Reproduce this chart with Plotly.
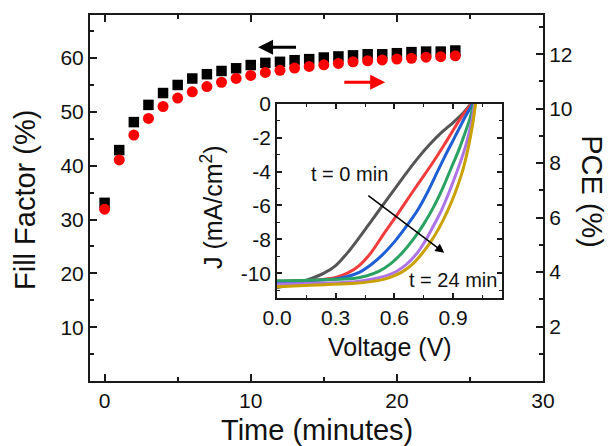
import plotly.graph_objects as go

# ---------------- data ----------------
time_min = list(range(0, 25))
fill_factor = [33.1, 42.9, 48.1, 51.3, 53.5, 55.0, 56.2, 57.0, 57.6, 58.1, 58.7, 59.1, 59.3,
               59.6, 59.8, 60.1, 60.3, 60.5, 60.7, 60.7, 60.9, 61.1, 61.2, 61.2, 61.4]
pce = [6.31, 8.12, 9.03, 9.64, 10.08, 10.39, 10.62, 10.81, 10.97, 11.11, 11.22, 11.33, 11.41,
       11.49, 11.55, 11.61, 11.66, 11.72, 11.76, 11.79, 11.82, 11.85, 11.89, 11.91, 11.94]

# inset J-V curves (t = 0 ... 24 min)
v_t0 = [0.0, 0.1, 0.18, 0.24, 0.30, 0.36, 0.42, 0.48, 0.54, 0.60, 0.66, 0.72, 0.78, 0.84, 0.90, 0.95, 0.99]
j_t0 = [-10.85, -10.6, -10.3, -10.0, -9.55, -8.8, -7.9, -6.95, -6.0, -5.05, -4.1, -3.2, -2.4, -1.7, -1.1, -0.55, 0.0]
v_t1 = [0.0, 0.1, 0.2, 0.3, 0.36, 0.42, 0.48, 0.55, 0.62, 0.69, 0.75, 0.80, 0.85, 0.89, 0.93, 0.96, 0.995]
j_t1 = [-10.5, -10.45, -10.4, -10.25, -10.0, -9.55, -8.8, -7.6, -6.45, -5.25, -4.25, -3.4, -2.5, -1.75, -1.0, -0.5, 0.0]
v_t2 = [0.0, 0.15, 0.3, 0.36, 0.42, 0.48, 0.54, 0.60, 0.66, 0.72, 0.77, 0.82, 0.86, 0.90, 0.94, 0.97, 1.0]
j_t2 = [-10.55, -10.45, -10.35, -10.2, -9.95, -9.5, -8.9, -8.15, -7.25, -6.25, -5.2, -4.0, -3.05, -2.15, -1.25, -0.6, 0.0]
v_t3 = [0.0, 0.2, 0.4, 0.46, 0.52, 0.58, 0.64, 0.70, 0.75, 0.80, 0.85, 0.89, 0.93, 0.96, 0.985, 1.005]
j_t3 = [-10.45, -10.4, -10.3, -10.15, -9.9, -9.45, -8.8, -7.95, -7.1, -6.1, -4.9, -3.8, -2.7, -1.75, -0.9, 0.0]
v_t4 = [0.0, 0.2, 0.4, 0.51, 0.56, 0.61, 0.66, 0.71, 0.76, 0.80, 0.84, 0.88, 0.91, 0.94, 0.965, 0.99, 1.01]
j_t4 = [-10.65, -10.6, -10.5, -10.3, -10.15, -9.9, -9.5, -8.9, -8.05, -7.2, -6.3, -5.2, -4.3, -3.35, -2.45, -1.3, 0.0]
v_t5 = [0.0, 0.2, 0.4, 0.48, 0.55, 0.61, 0.65, 0.69, 0.73, 0.77, 0.81, 0.85, 0.89, 0.92, 0.95, 0.98, 1.0, 1.015]
j_t5 = [-10.8, -10.7, -10.6, -10.5, -10.35, -10.1, -9.85, -9.5, -9.0, -8.4, -7.7, -6.85, -5.85, -4.95, -3.9, -2.45, -1.2, 0.0]

curve_v = [v_t0, v_t1, v_t2, v_t3, v_t4, v_t5]
curve_j = [j_t0, j_t1, j_t2, j_t3, j_t4, j_t5]
curve_colors = ["#555555", "#f23c3c", "#1f5fd6", "#2aa261", "#ad74e6", "#c9a100"]

# tick labels
main_x_ticks = [0, 10, 20, 30]
ff_ticks = [10, 20, 30, 40, 50, 60]
pce_ticks = [2, 4, 6, 8, 10, 12]
inset_v_ticks = [0.0, 0.3, 0.6, 0.9]
inset_v_labels = ["0.0", "0.3", "0.6", "0.9"]
inset_j_ticks = [0, -2, -4, -6, -8, -10]
inset_j_labels = ["0", "-2", "-4", "-6", "-8", "-10"]

FONT = "Liberation Sans, Arial, sans-serif"
TXT = "#111111"

fig = go.Figure()

fig.add_trace(go.Scatter(x=time_min, y=fill_factor, mode="markers", xaxis="x", yaxis="y",
                         marker=dict(symbol="square", size=10.5, color="black"), showlegend=False))
fig.add_trace(go.Scatter(x=time_min, y=pce, mode="markers", xaxis="x", yaxis="y2",
                         marker=dict(symbol="circle", size=11, color="#ff0000"), showlegend=False))

for v, j, c in zip(curve_v, curve_j, curve_colors):
    fig.add_trace(go.Scatter(x=v, y=j, mode="lines", xaxis="x3", yaxis="y3",
                             line=dict(color=c, width=3, shape="spline", smoothing=0.8),
                             showlegend=False))

axis_common = dict(showgrid=False, zeroline=False, showline=True, linecolor="#1a1a1a", automargin=False,
                   ticks="inside", tickcolor="#1a1a1a", tickfont=dict(family=FONT, size=21, color=TXT))

fig.update_layout(
    template="none",
    width=608, height=446, autosize=False,
    margin=dict(l=90, r=65, t=15, b=65, pad=0),
    paper_bgcolor="white", plot_bgcolor="rgba(0,0,0,0)",
    font=dict(family=FONT, color=TXT),
    showlegend=False,
    xaxis=dict(**axis_common, domain=[0, 1], range=[-1, 30], tickvals=main_x_ticks,
               linewidth=2, ticklen=7, tickwidth=2, mirror="ticks",
               minor=dict(tickvals=[5, 15, 25], ticks="inside", ticklen=4, tickwidth=1.5, tickcolor="#1a1a1a")),
    yaxis=dict(**axis_common, range=[0, 68], tickvals=ff_ticks, linewidth=2, ticklen=7, tickwidth=2,
               mirror=True,
               minor=dict(tickvals=[5, 15, 25, 35, 45, 55, 65], ticks="inside", ticklen=4, tickwidth=1.5,
                          tickcolor="#1a1a1a")),
    yaxis2=dict(**axis_common, overlaying="y", side="right", anchor="x", range=[0, 13.44],
                tickvals=pce_ticks, linewidth=2, ticklen=7, tickwidth=2,
                minor=dict(tickvals=[1, 3, 5, 7, 9, 11, 13], ticks="inside", ticklen=4, tickwidth=1.5,
                           tickcolor="#1a1a1a")),
    xaxis3=dict(**axis_common, domain=[0.4128, 0.9095], anchor="y3", range=[0, 1.15],
                tickvals=inset_v_ticks, ticktext=inset_v_labels, linewidth=1.5, ticklen=5, tickwidth=1.5,
                mirror="ticks",
                minor=dict(tickvals=[0.15, 0.45, 0.75, 1.05], ticks="inside", ticklen=3, tickwidth=1,
                           tickcolor="#1a1a1a")),
    yaxis3=dict(**axis_common, domain=[0.2276, 0.757], anchor="x3", range=[-11.45, 0],
                tickvals=inset_j_ticks, ticktext=inset_j_labels, linewidth=1.5, ticklen=5, tickwidth=1.5,
                mirror="ticks",
                minor=dict(tickvals=[-1, -3, -5, -7, -9, -11], ticks="inside", ticklen=3, tickwidth=1,
                           tickcolor="#1a1a1a")),
)

title_font = dict(family=FONT, size=29, color=TXT)
inset_title_font = dict(family=FONT, size=25, color=TXT)
label_font = dict(family=FONT, size=20, color=TXT)

annotations = [
    dict(text="Time (minutes)", x=0.5005, y=-0.134, xref="paper", yref="paper", showarrow=False,
         xanchor="center", yanchor="middle", font=title_font),
    dict(text="Fill Factor (%)", x=-0.1435, y=0.4945, xref="paper", yref="paper", showarrow=False,
         xanchor="center", yanchor="middle", textangle=-90, font=title_font),
    dict(text="PCE (%)", x=1.108, y=0.516, xref="paper", yref="paper", showarrow=False,
         xanchor="center", yanchor="middle", textangle=90, font=title_font),
    dict(text="Voltage (V)", x=0.662, y=0.093, xref="paper", yref="paper", showarrow=False,
         xanchor="center", yanchor="middle", font=inset_title_font),
    dict(text="J (mA/cm<sup>2</sup>)", x=0.269, y=0.475, xref="paper", yref="paper", showarrow=False,
         xanchor="center", yanchor="middle", textangle=-90, font=inset_title_font),
    dict(text="t = 0 min", x=0.371, y=-4.16, xref="x3", yref="y3", showarrow=False,
         xanchor="center", yanchor="middle", font=label_font),
    dict(text="t = 24 min", x=0.902, y=-10.4, xref="x3", yref="y3", showarrow=False,
         xanchor="center", yanchor="middle", font=label_font),
    # inset arrow
    dict(text="", x=0.855, y=-8.79, ax=0.459, ay=-5.35, xref="x3", yref="y3", axref="x3", ayref="y3",
         showarrow=True, arrowhead=2, arrowsize=1.2, arrowwidth=1.5, arrowcolor="black"),
    # main arrows
    dict(text="", x=10.5, y=62.0, ax=13.2, ay=62.0, xref="x", yref="y", axref="x", ayref="y",
         showarrow=True, arrowhead=2, arrowsize=1, arrowwidth=3, arrowcolor="black"),
    dict(text="", x=19.2, y=55.5, ax=16.3, ay=55.5, xref="x", yref="y", axref="x", ayref="y",
         showarrow=True, arrowhead=2, arrowsize=1, arrowwidth=3, arrowcolor="#ff0000"),
]
fig.update_layout(annotations=annotations)

fig.write_html("out.html", config={"displayModeBar": False},
               post_script="document.body.style.margin='0';document.body.style.overflow='hidden';")
